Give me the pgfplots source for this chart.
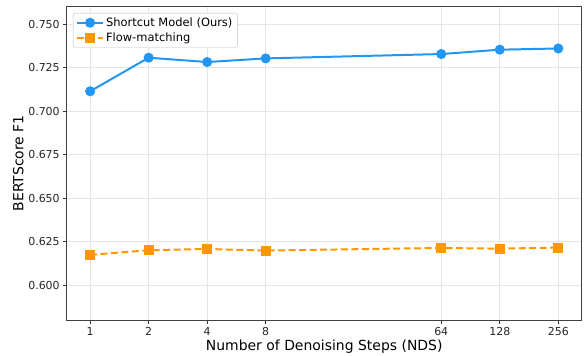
\documentclass[border=0pt]{standalone}
\usepackage{fontspec}
\setmainfont{DejaVu Sans}
\usepackage{pgfplots}
\pgfplotsset{compat=1.18}
\definecolor{cblue}{HTML}{2196F3}
\definecolor{corange}{HTML}{FF9800}
\begin{document}
\begin{tikzpicture}
\begin{axis}[
  scale only axis,
  width=515bp, height=313.3bp,
  xmode=log, log basis x=2,
  xmin=0.7579, xmax=337.8,
  ymin=0.58, ymax=0.76,
  xtick={1,2,4,8,64,128,256},
  xticklabels={1,2,4,8,64,128,256},
  ytick={0.600,0.625,0.650,0.675,0.700,0.725,0.750},
  yticklabel style={/pgf/number format/.cd,fixed,fixed zerofill,precision=3},
  /pgf/number format/assume math mode=true,
  tick label style={font=\fontsize{11}{12}\selectfont, text=black!85},
  label style={font=\fontsize{14}{16}\selectfont},
  xlabel={Number of Denoising Steps (NDS)},
  ylabel={BERTScore F1},
  tick align=outside,
  major tick length=3.5bp,
  tick style={black!80, line width=0.7pt},
  xtick pos=bottom, ytick pos=left,
  xminorticks=false,
  grid=major,
  major grid style={black!10, line width=0.7pt},
  axis line style={black!75, line width=0.9pt},
  legend style={font=\fontsize{11.5}{13}\selectfont, draw=black!25, rounded corners=2pt, inner xsep=3pt, inner ysep=2.5pt, row sep=1pt, at={(0.012,0.98)}, anchor=north west},
  legend cell align=left,
  legend image code/.code={\draw[mark repeat=2,mark phase=2] plot coordinates {(0bp,0bp)(13bp,0bp)(26bp,0bp)};},
  xlabel style={yshift=2bp},
  ylabel style={yshift=-2bp},
]
\addplot[cblue, line width=2pt, mark=*, mark size=4pt, mark options={solid, fill=cblue, draw=cblue}]
coordinates {(1,0.7114) (2,0.7307) (4,0.7282) (8,0.7303) (64,0.7328) (128,0.7353) (256,0.7360)};
\addlegendentry{Shortcut Model (Ours)}
\addplot[corange, line width=2pt, dash pattern=on 7pt off 3.5pt, mark=square*, mark size=4pt, mark options={solid, fill=corange, draw=corange}]
coordinates {(1,0.6174) (2,0.6201) (4,0.6208) (8,0.6199) (64,0.6214) (128,0.6210) (256,0.6216)};
\addlegendentry{Flow-matching}
\end{axis}
\pgfresetboundingbox
\useasboundingbox (-66.7bp,-36bp) rectangle (518.3bp,320bp);
\end{tikzpicture}
\end{document}
